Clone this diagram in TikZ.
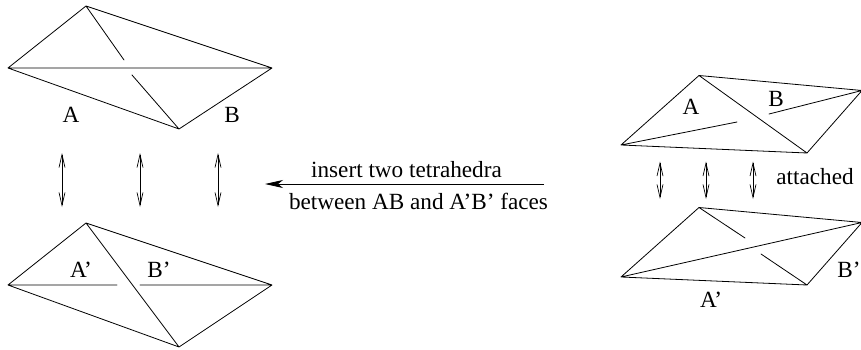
\documentclass[tikz,border=0pt]{standalone}
\usepackage{fontspec}
\setmainfont{Liberation Serif}
\usetikzlibrary{arrows.meta}
\tikzset{
  edge/.style={draw=black,line width=0.8pt,line cap=round,line join=round},
  lbl/.style={inner sep=0pt,font=\fontsize{23.2}{26}\selectfont,text=black},
  dbl/.style={draw=black,line width=0.7pt,{Straight Barb[length=13pt,width=6pt]}-{Straight Barb[length=13pt,width=6pt]}},
  mainarr/.style={draw=black,line width=0.8pt,-{Stealth[length=18pt,width=8pt,inset=5pt]}}
}
\begin{document}
\begin{tikzpicture}[x=1pt,y=-1pt]
\useasboundingbox (0,0) rectangle (861,350);
% top left
\coordinate (a1) at (86,6); \coordinate (a2) at (8,68); \coordinate (a3) at (272,68); \coordinate (a4) at (179,129);
\coordinate (a5) at (124,60); \coordinate (a6) at (132,75);
\draw[edge] (a1)--(a2)--(a4)--(a3)--(a1) (a2)--(a3) (a1)--(a5) (a6)--(a4);
% bottom left
\coordinate (b1) at (86,223); \coordinate (b2) at (8,285); \coordinate (b3) at (272,285); \coordinate (b4) at (179,347);
\coordinate (b5) at (117,285); \coordinate (b6) at (140,285);
\draw[edge] (b1)--(b2)--(b4)--(b3)--(b1) (b2)--(b5) (b6)--(b3) (b1)--(b4);
% top right
\begin{scope}
\clip (0,0) rectangle (861,350);
\coordinate (c1) at (699,75.5); \coordinate (c2) at (621,145); \coordinate (c3) at (862,90.5); \coordinate (c4) at (807,153);
\coordinate (c5) at (737,122); \coordinate (c6) at (769,114);
\draw[edge] (c1)--(c2)--(c4)--(c3)--(c1) (c1)--(c4) (c2)--(c5) (c6)--(c3);
\coordinate (d1) at (699,207.5); \coordinate (d2) at (621,277); \coordinate (d3) at (862,222.5); \coordinate (d4) at (807,285);
\coordinate (d5) at (745,238); \coordinate (d6) at (761,254);
\draw[edge] (d1)--(d2)--(d4)--(d3)--(d1) (d2)--(d3) (d1)--(d5) (d6)--(d4);
\end{scope}
% double arrows
\coordinate (e1) at (62,153); \coordinate (e2) at (62,207);
\coordinate (e3) at (140,153); \coordinate (e4) at (140,207);
\coordinate (e5) at (218,153); \coordinate (e6) at (218,207);
\draw[dbl] (e1)--(e2); \draw[dbl] (e3)--(e4); \draw[dbl] (e5)--(e6);
\coordinate (f1) at (660,161.5); \coordinate (f2) at (660,199);
\coordinate (f3) at (706,161.5); \coordinate (f4) at (706,199);
\coordinate (f5) at (753,161.5); \coordinate (f6) at (753,199);
\draw[dbl] (f1)--(f2); \draw[dbl] (f3)--(f4); \draw[dbl] (f5)--(f6);
% main arrow
\coordinate (g1) at (544,184); \coordinate (g2) at (265,184);
\draw[mainarr] (g1)--(g2);
% labels
\node[lbl] (la) at (71,115) {A};
\node[lbl] (lb) at (232,115) {B};
\node[lbl] (lap) at (81,270) {A’};
\node[lbl] (lbp) at (159,270) {B’};
\node[lbl] (ins) at (406.5,170) {insert two tetrahedra};
\node[lbl] (bet) at (418.5,201) {between AB and A’B’ faces};
\node[lbl] (ra) at (691,107) {A};
\node[lbl] (rb) at (776,99) {B};
\node[lbl] (att) at (815,177) {attached};
\node[lbl] (rap) at (711,300) {A’};
\node[lbl] (rbp) at (849,270) {B’};
\end{tikzpicture}
\end{document}
